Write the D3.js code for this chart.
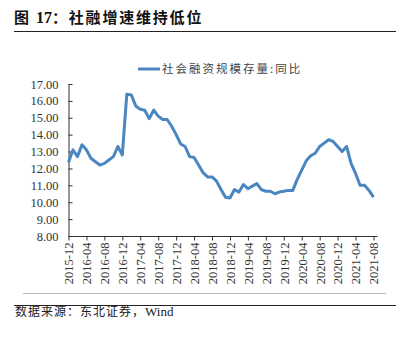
<!DOCTYPE html>
<html>
<head>
<meta charset="utf-8">
<script src="https://cdn.jsdelivr.net/npm/d3@7"></script>
<style>
  html, body { margin: 0; padding: 0; background: #fff; }
  svg { display: block; }
  .num { font-family: "Liberation Serif", "DejaVu Serif", serif; }
  .cjk { font-family: "Noto Sans CJK SC", sans-serif; }
</style>
</head>
<body>
<svg id="chart" width="409" height="338"></svg>
<script>
// Monthly series, 2015-12 through 2021-08
const startYear = 2015, startMonth = 12;
const tsfGrowth = [
  12.35, 13.1, 12.7, 13.4, 13.1, 12.6, 12.4, 12.2, 12.3, 12.5, 12.7, 13.3, 12.8,
  16.4, 16.35, 15.7, 15.5, 15.45, 14.95, 15.45, 15.1, 14.9, 14.9, 14.5, 14.0,
  13.45, 13.3, 12.7, 12.65, 12.2, 11.75, 11.5, 11.5, 11.25, 10.75, 10.3, 10.25,
  10.75, 10.6, 11.05, 10.8, 10.95, 11.1, 10.75, 10.65, 10.65, 10.5, 10.6, 10.65,
  10.7, 10.7, 11.35, 11.9, 12.45, 12.75, 12.9, 13.3, 13.5, 13.7, 13.6, 13.3,
  13.0, 13.3, 12.3, 11.7, 11.0, 11.0, 10.7, 10.3
];
const yTicks = [8, 9, 10, 11, 12, 13, 14, 15, 16, 17];
const seriesName = "社会融资规模存量:同比";
const titleParts = [["图 ", "cjk"], ["17", "num"], ["：社融增速维持低位", "cjk"]];
const sourceParts = [["数据来源：东北证券，", "cjk"], ["Wind", "num"]];

function monthLabel(i) {
  const total = startYear * 12 + (startMonth - 1) + i;
  const y = Math.floor(total / 12), m = total % 12 + 1;
  return y + "-" + String(m).padStart(2, "0");
}

const svg = d3.select("#chart");

const x = d3.scaleLinear().domain([0, tsfGrowth.length - 1]).range([68.5, 373.5]);
const y = d3.scaleLinear().domain([8, 17]).range([236, 84]);

// Title and rule
const title = svg.append("text")
  .attr("x", 14).attr("y", 23)
  .style("font-size", "15px").style("font-weight", 700)
  .attr("fill", "#111");
title.selectAll("tspan").data(titleParts).join("tspan")
  .attr("class", d => d[1])
  .style("letter-spacing", d => d[1] === "cjk" ? "1.8px" : "0px")
  .style("font-size", d => d[1] === "num" ? "16px" : "15px")
  .text(d => d[0]);
svg.append("line").attr("x1", 14).attr("x2", 396).attr("y1", 31.5).attr("y2", 31.5)
  .attr("stroke", "#222").attr("stroke-width", 1.2);

// Legend
svg.append("line").attr("x1", 138).attr("x2", 160).attr("y1", 69).attr("y2", 69)
  .attr("stroke", "#4a86c0").attr("stroke-width", 3);
svg.append("text")
  .attr("class", "cjk")
  .attr("x", 162).attr("y", 73)
  .style("font-size", "11.5px").attr("fill", "#444")
  .style("letter-spacing", "2px")
  .text(seriesName);

// Y axis
const yAxis = d3.axisLeft(y).tickValues(yTicks).tickFormat(d3.format(".2f"))
  .tickSizeInner(-4).tickSizeOuter(0).tickPadding(10);
const gy = svg.append("g").attr("transform", "translate(68.5,0)").call(yAxis)
  .attr("font-family", null).attr("font-size", null);
gy.select(".domain").attr("stroke", "#333");
gy.selectAll(".tick line").attr("stroke", "#333");
gy.selectAll(".tick text").attr("class", "num").style("font-size", "12.5px").attr("fill", "#333");

// X axis
const xTickIdx = d3.range(0, tsfGrowth.length, 4);
const xAxis = d3.axisBottom(x).tickValues(xTickIdx).tickFormat(monthLabel)
  .tickSizeInner(4).tickSizeOuter(0);
const gx = svg.append("g").attr("transform", "translate(0,236.5)").call(xAxis)
  .attr("font-family", null).attr("font-size", null);
gx.select(".domain").attr("stroke", "#333").attr("d", `M${x(0)},0H${x(tsfGrowth.length - 1) + 4}`);
gx.selectAll(".tick line").attr("stroke", "#333");
gx.selectAll(".tick text")
  .attr("class", "num").style("font-size", "12.5px").attr("fill", "#333")
  .attr("transform", "rotate(-90)")
  .attr("text-anchor", "end")
  .attr("x", -6).attr("y", 0).attr("dy", "0.35em");

// Line
const line = d3.line().x((d, i) => x(i)).y(d => y(d));
svg.append("path").datum(tsfGrowth)
  .attr("d", line)
  .attr("fill", "none")
  .attr("stroke", "#4a86c0")
  .attr("stroke-width", 3)
  .attr("stroke-linejoin", "round");

// Footer rules and source
svg.append("line").attr("x1", 23).attr("x2", 386).attr("y1", 293.5).attr("y2", 293.5)
  .attr("stroke", "#bbb").attr("stroke-width", 1);
svg.append("line").attr("x1", 14).attr("x2", 396).attr("y1", 305.5).attr("y2", 305.5)
  .attr("stroke", "#222").attr("stroke-width", 1.2);
const src = svg.append("text")
  .attr("x", 15).attr("y", 316)
  .style("font-size", "12px").attr("fill", "#222");
src.selectAll("tspan").data(sourceParts).join("tspan")
  .attr("class", d => d[1])
  .style("letter-spacing", d => d[1] === "cjk" ? "1px" : "0px")
  .style("font-size", d => d[1] === "num" ? "13px" : "12px")
  .text(d => d[0]);
</script>
</body>
</html>
